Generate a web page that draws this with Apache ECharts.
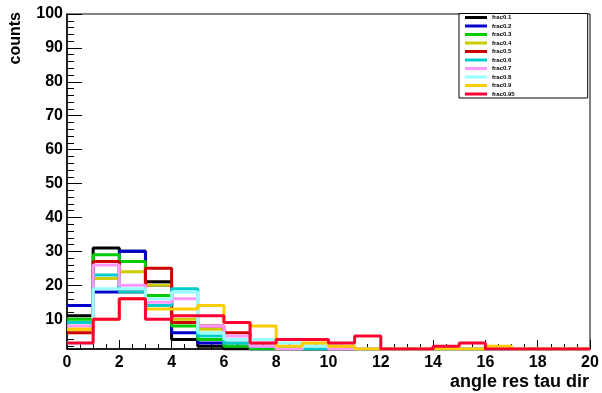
<!DOCTYPE html>
<html>
<head>
<meta charset="utf-8">
<script src="https://cdn.jsdelivr.net/npm/echarts@6/dist/echarts.min.js"></script>
<style>
  html, body { margin: 0; padding: 0; background: #fff; }
  #chart { width: 602px; height: 393px; }
</style>
</head>
<body>
<div id="chart"></div>
<script>
// bin contents, one value per unit bin from 0 to 20
var frac01  = [11, 31, 30, 21, 4, 2, 1, 1, 0, 0, 0, 0, 0, 0, 0, 0, 0, 0, 0, 0];
var frac02  = [14, 18, 30, 20, 6, 3, 2, 1, 1, 0, 0, 0, 0, 0, 0, 0, 0, 0, 0, 0];
var frac03  = [10, 29, 27, 17, 8, 4, 2, 1, 0, 0, 0, 0, 0, 0, 0, 0, 0, 0, 0, 0];
var frac04  = [7, 22, 24, 20, 10, 7, 4, 2, 1, 2, 0, 0, 0, 0, 1, 1, 0, 0, 0, 0];
var frac05  = [6, 27, 18, 25, 9, 8, 6, 2, 1, 0, 0, 0, 0, 0, 0, 0, 0, 0, 0, 0];
var frac06  = [9, 23, 18, 14, 19, 5, 3, 2, 1, 0, 0, 0, 0, 0, 0, 0, 0, 0, 0, 0];
var frac07  = [8, 26, 20, 15, 16, 8, 5, 2, 1, 2, 0, 0, 0, 0, 0, 0, 0, 0, 0, 0];
var frac08  = [3, 19, 19, 16, 18, 6, 4, 4, 3, 2, 3, 0, 0, 0, 0, 0, 0, 0, 0, 0];
var frac09  = [7, 10, 16, 13, 13, 14, 9, 8, 2, 3, 2, 0, 0, 0, 0, 0, 2, 0, 0, 0];
var frac095 = [3, 10, 16, 10, 11, 11, 9, 3, 4, 4, 3, 5, 0, 0, 2, 3, 0, 0, 0, 0];

var names  = ['frac0.1', 'frac0.2', 'frac0.3', 'frac0.4', 'frac0.5',
              'frac0.6', 'frac0.7', 'frac0.8', 'frac0.9', 'frac0.95'];
var values = [frac01, frac02, frac03, frac04, frac05, frac06, frac07, frac08, frac09, frac095];
var colors = ['#000000', '#0000cc', '#00cc00', '#cccc00', '#cc0000',
              '#00cccc', '#ff99ff', '#99ffff', '#ffcc00', '#ff0033'];

var xMin = 0, xMax = 20;
var yMin = 1.2, yMax = 100;
var font = 'Liberation Sans, Arial, sans-serif';

// histogram outline: one point per lower bin edge plus the last upper edge
function steps(vals) {
    var pts = [];
    for (var i = 0; i < vals.length; i++) {
        pts.push([i, Math.max(vals[i], yMin)]); // empty bins sit on the frame, like ROOT
    }
    pts.push([xMax, Math.max(vals[vals.length - 1], yMin)]);
    return pts;
}

var series = [];
for (var i = 0; i < names.length; i++) {
    series.push({
        name: names[i],
        type: 'line',
        step: 'end',
        data: steps(values[i]),
        showSymbol: false,
        clip: true,
        color: colors[i],
        lineStyle: { width: 3, color: colors[i] }
    });
}

var chart = echarts.init(document.getElementById('chart'));
var option = {
    animation: false,
    grid: {
        left: 67, right: 12, top: 14, bottom: 44,
        containLabel: false,
        outerBoundsMode: 'none',
        show: true, borderColor: '#000', borderWidth: 1
    },
    legend: {
        data: names,
        orient: 'vertical',
        left: 459, top: 13.5,
        padding: [0, 73, 0, 6],
        itemWidth: 22, itemHeight: 3, itemGap: 0.5,
        icon: 'rect',
        selectedMode: false,
        backgroundColor: '#fff',
        borderColor: '#000', borderWidth: 1,
        textStyle: { fontFamily: font, fontSize: 6, fontWeight: 'bold', color: '#000', lineHeight: 8 }
    },
    xAxis: {
        type: 'value',
        min: xMin, max: xMax, interval: 2,
        axisLine: { lineStyle: { color: '#000', width: 1.5 } },
        axisTick: { inside: true, length: 9, lineStyle: { color: '#000' } },
        minorTick: { show: true, splitNumber: 4, length: 5, lineStyle: { color: '#000' } },
        splitLine: { show: false },
        axisLabel: { fontFamily: font, fontSize: 16, fontWeight: 'bold', color: '#000', margin: 6 }
    },
    yAxis: {
        type: 'value',
        min: yMin, max: yMax, splitNumber: 10,
        axisLine: { show: true, lineStyle: { color: '#000', width: 1.5 } },
        axisTick: { inside: true, length: 15, lineStyle: { color: '#000' } },
        minorTick: { show: true, splitNumber: 5, length: 7, lineStyle: { color: '#000' } },
        splitLine: { show: false },
        axisLabel: {
            showMinLabel: false,
            fontFamily: font, fontSize: 16, fontWeight: 'bold', color: '#000', margin: 4
        }
    },
    graphic: [{
        type: 'text',
        x: 16, y: 12,
        rotation: Math.PI / 2,
        style: {
            text: 'counts',
            fontFamily: font, fontSize: 16, fontWeight: 'bold', fill: '#000',
            align: 'right', verticalAlign: 'middle'
        }
    }, {
        type: 'text',
        x: 589, y: 382,
        style: {
            text: 'angle res tau dir',
            fontFamily: font, fontSize: 18, fontWeight: 'bold', fill: '#000',
            align: 'right', verticalAlign: 'middle'
        }
    }],
    series: series
};
chart.setOption(option);
</script>
</body>
</html>
